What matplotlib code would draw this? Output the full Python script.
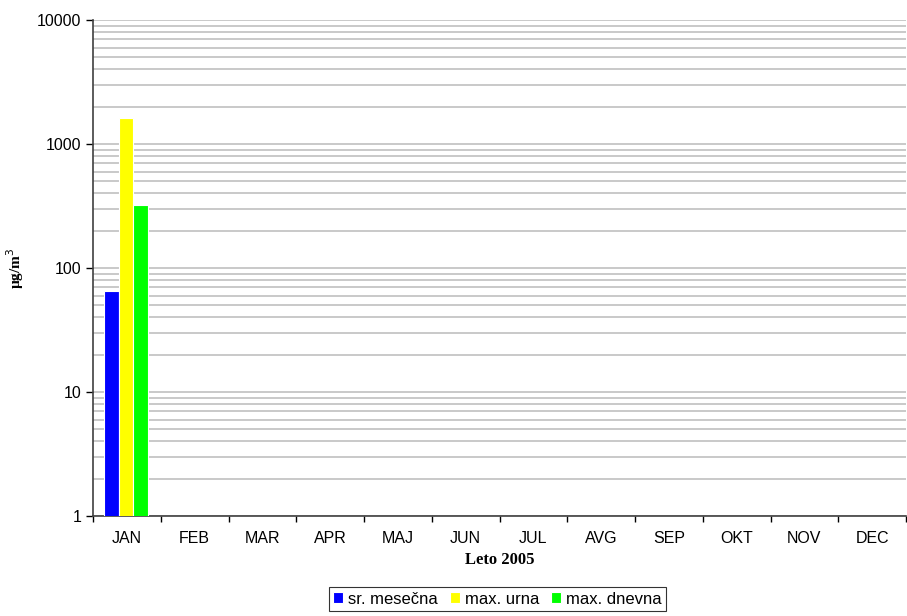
import numpy as np
import matplotlib
matplotlib.use("Agg")
import matplotlib.pyplot as plt
from matplotlib.ticker import LogLocator, NullFormatter, FixedLocator

months = ["JAN", "FEB", "MAR", "APR", "MAJ", "JUN", "JUL", "AVG", "SEP", "OKT", "NOV", "DEC"]
sr_mesecna = [65] + [np.nan] * 11
max_urna = [1610] + [np.nan] * 11
max_dnevna = [324] + [np.nan] * 11

series = [
    ("sr. mesečna", sr_mesecna, "#0000ff"),
    ("max. urna", max_urna, "#ffff00"),
    ("max. dnevna", max_dnevna, "#00ff00"),
]

plt.rcParams["font.family"] = ["Liberation Sans", "DejaVu Sans"]

fig = plt.figure(figsize=(9.07, 6.16), dpi=100)
ax = fig.add_axes([93 / 907, 1 - 516 / 616, (906 - 93) / 907, (516 - 20) / 616])

x = np.arange(len(months))
w = 0.215
for i, (name, vals, col) in enumerate(series):
    ax.bar(x + (i - 1) * w - 0.015, vals, width=w, color=col, edgecolor="white",
           linewidth=0.8, label=name, zorder=3)

ax.set_yscale("log")
ax.set_ylim(1, 10000)
ax.set_xlim(-0.5, len(months) - 0.5)
ax.yaxis.set_minor_locator(LogLocator(base=10, subs=np.arange(2, 10), numticks=10))
ax.yaxis.set_minor_formatter(NullFormatter())
ax.set_yticks([1, 10, 100, 1000, 10000])
ax.set_yticklabels(["1", "10", "100", "1000", "10000"])
ax.grid(True, which="both", axis="y", color="#c0c0c0", linewidth=1.2, zorder=0)
ax.tick_params(axis="y", which="minor", length=0)
ax.tick_params(axis="y", which="major", length=5, width=1, direction="out", labelsize=11.5)

ax.set_xticks(x)
ax.set_xticklabels(months)
ax.xaxis.set_minor_locator(FixedLocator(np.arange(-0.5, len(months), 1)))
ax.tick_params(axis="x", which="major", length=0, labelsize=11.5, pad=11)
ax.tick_params(axis="x", which="minor", length=4, width=1, direction="out")

for s in ["top", "right"]:
    ax.spines[s].set_visible(False)
ax.spines["left"].set_color("#404040")
ax.spines["bottom"].set_color("#404040")
ax.spines["left"].set_linewidth(1.2)
ax.spines["bottom"].set_linewidth(1.2)

ax.set_xlabel("Leto 2005", family=["Liberation Serif", "DejaVu Serif"], fontweight="bold",
              fontsize=12, labelpad=4)
ax.set_ylabel("µg/m$^3$", family=["Liberation Serif", "DejaVu Serif"], fontweight="bold",
              fontsize=11, labelpad=8)

leg = ax.legend(loc="center", bbox_to_anchor=(0.5 * (330 + 665) / 907, 1 - 599 / 616),
                bbox_transform=fig.transFigure, ncol=3, frameon=True, fancybox=False,
                edgecolor="black", fontsize=12, handlelength=0.6, handleheight=0.6,
                handletextpad=0.3, columnspacing=0.7, borderpad=0.25, borderaxespad=0)
leg.get_frame().set_linewidth(0.8)

fig.savefig("out.png", dpi=100)
